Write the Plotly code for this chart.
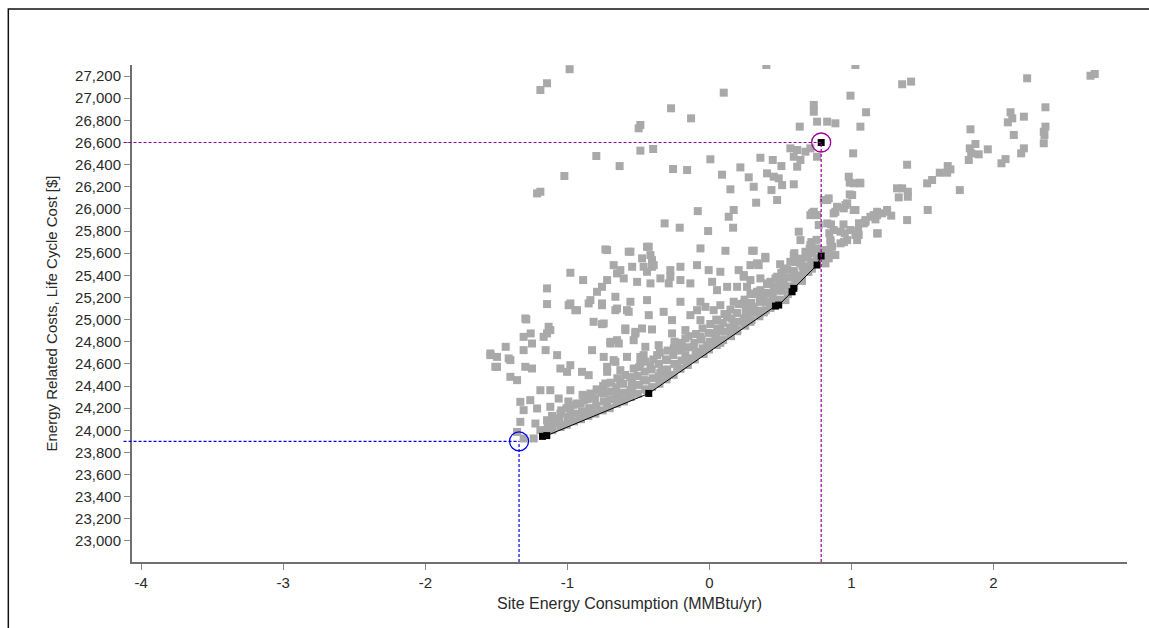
import plotly.graph_objects as go

# ---- All simulated design options: site energy (MMBtu/yr) vs. life cycle cost ($) ----
upper_energy = [-0.984, -1.143, -1.19, 0.101, -0.27, -0.129, -0.486, -0.498, 0.735, 0.735,
                0.758, 0.829, 0.636, 0.887, 0.993, 1.103, 1.063, 0.401, 1.028, -0.486,
                -0.396, -0.796, -0.632, -1.021, -1.19, -1.213, 0.007, -0.256, -0.157, 0.089,
                0.218, 0.359, 0.446, 0.507, 0.406, 0.453, 0.488, 0.277, 0.512, 0.594,
                0.312, 0.148, 0.437, 0.329, 0.477, 0.570, 0.618, 0.594, 0.641, 0.676,
                0.711, 0.618, 0.758, 1.012, 0.981, 0.988, 1.058, 0.988]
upper_cost = [27262, 27135, 27074, 27050, 26909, 26818, 26758, 26728, 26939, 26878,
              26788, 26788, 26743, 26773, 27023, 26873, 26743, 27300, 27300, 26526,
              26541, 26478, 26387, 26297, 26155, 26140, 26448, 26360, 26351, 26309,
              26375, 26462, 26442, 26387, 26321, 26291, 26276, 26285, 26215, 26222,
              26200, 26177, 26170, 26056, 26080, 26547, 26532, 26471, 26442, 26517,
              26547, 26381, 26471, 26502, 26291, 26237, 26237, 26131]

right_energy = [1.357, 1.420, 2.237, 2.683, 2.713, 1.392, 2.120, 2.132, 2.101, 2.214,
                2.366, 1.838, 2.143, 2.366, 2.354, 2.359, 2.354, 2.214, 2.195, 2.085,
                2.056, 1.873, 1.833, 1.843, 1.826, 1.896, 1.960, 1.678, 1.697, 1.674,
                1.622, 1.568, 1.533, 1.763, 1.357, 1.397, 1.397, 1.333, 1.537, 1.392,
                1.251, 1.216, 1.280, 1.157, 1.169, 1.099, 1.087, 1.028, 1.016, 1.063,
                1.005, 1.185, 1.028, 1.040, 1.321]
right_cost = [27126, 27150, 27180, 27203, 27219, 26399, 26873, 26818, 26782, 26833,
              26918, 26719, 26668, 26743, 26697, 26668, 26593, 26547, 26502, 26450,
              26412, 26586, 26547, 26502, 26442, 26493, 26538, 26387, 26357, 26327,
              26327, 26261, 26231, 26170, 26186, 26155, 26110, 26104, 25990, 25899,
              25990, 25960, 25939, 25944, 25905, 25899, 25869, 25990, 26231, 26231,
              26125, 25779, 25764, 25718, 26186]

mid_energy = [0.829, 0.899, 0.958, 1.016, 0.875, 0.711, 0.735, -0.082, 0.136, 0.171,
              -0.315, -0.209, -0.009, 0.167, 1.181, 0.629, 0.805, 0.84, 0.970, 0.946,
              0.723, 0.758, 0.887, 0.770, 0.829, 0.875, 0.923, 0.993, 1.051, 0.970,
              0.923, 0.852, 1.134, 1.181, 1.251, 1.099, 1.181, 0.641, 0.711, 0.746,
              0.817, 0.864, 0.887, 0.840, 0.817, 0.676, 0.594, 0.570, 0.641, 0.523,
              0.594, 0.664, 0.688]
mid_cost = [26080, 26019, 26035, 25990, 25960, 25944, 25974, 25980, 25929, 25990,
            25869, 25830, 25800, 25830, 25944, 25794, 26080, 26095, 26050, 26005,
            25960, 25944, 25974, 25854, 25869, 25809, 25794, 25809, 25764, 25718,
            25689, 25718, 25929, 25974, 25974, 25884, 25779, 25718, 25673, 25643,
            25628, 25658, 25583, 25553, 25508, 25613, 25583, 25522, 25508, 25462,
            25417, 25432, 25477]

band_energy = [0.312, 0.394, 0.289, 0.347, 0.477, 0.430, 0.359, 0.289, 0.242, 0.5,
               0.523, 0.441, 0.359, 0.289, 0.383, 0.312, 0.242, 0.265, 0.535, -0.427,
               -0.556, -0.415, -0.474, -0.720, -0.063, 0.113, 0.301, 0.394, 0.336, -0.674,
               -0.627, -0.544, -0.404, -0.275, -0.204, -0.087, -0.005, 0.077, 0.206, 0.242,
               -0.720, -0.603, -0.509, -0.415, -0.345, -0.275, -0.286, -0.204, -0.134, 0.019,
               0.054, 0.125, 0.195, 0.265, 0.336, 0.406, 0.465, 0.453, -0.662, -0.439,
               -0.204, -0.063, -0.028, 0.077, 0.171, 0.242, 0.359, -0.756, -0.662, -0.568,
               -0.427, -0.322, -0.263, -0.134, -0.087, 0.030, -0.063, 0.054, 0.125, 0.171,
               0.242, 0.289]
band_cost = [25622, 25553, 25492, 25492, 25387, 25341, 25372, 25357, 25387, 25296,
             25357, 25236, 25266, 25236, 25176, 25115, 25146, 25056, 25176, 25658,
             25613, 25583, 25553, 25628, 25643, 25622, 25622, 25567, 25508, 25492,
             25447, 25477, 25477, 25447, 25477, 25492, 25447, 25432, 25447, 25402,
             25357, 25372, 25341, 25327, 25372, 25387, 25327, 25357, 25327, 25341,
             25266, 25296, 25296, 25296, 25251, 25327, 25372, 25266, 25206, 25176,
             25161, 25161, 25115, 25130, 25161, 25146, 25191, 25146, 25085, 25070,
             25040, 25070, 24995, 25040, 25085, 25085, 24995, 24995, 25025, 24965,
             25010, 25070]

lower_energy = [-0.744, -0.592, -0.521, -0.474, -0.404, -0.263, -0.169, -0.169, -0.063, 0.030,
                0.077, 0.148, -0.697, -0.638, -0.533, -0.451, -0.357, -0.251, -0.204, -0.111,
                -0.016, 0.054, -0.744, -0.674, -0.580, -0.486, -0.368, -0.298, -0.169, -0.087,
                -0.720, -0.627, -0.533, -0.415, -0.333, -0.227, -0.732, -0.627, -0.544, -0.463,
                -0.357, -0.744, -0.650, -0.556, -0.720, -0.603, -0.439, -0.298, -0.157, -0.040,
                0.077, 0.195, 0.289, 0.383, 0.430]
lower_cost = [24965, 24920, 24889, 24920, 24911, 24875, 24905, 24830, 24844, 24875,
              24905, 24905, 24799, 24784, 24814, 24754, 24769, 24739, 24754, 24754,
              24769, 24799, 24663, 24634, 24663, 24663, 24679, 24634, 24679, 24694,
              24528, 24543, 24558, 24573, 24543, 24573, 24423, 24437, 24453, 24453,
              24483, 24332, 24332, 24362, 24242, 24272, 24362, 24483, 24590, 24690,
              24790, 24895, 24980, 25065, 25105]

left_energy = [-1.143, -0.979, -0.932, -0.850, -0.756, -0.650, -0.580, -0.815, -0.756, -1.296,
               -1.132, -1.143, -1.308, -1.249, -1.167, -1.258, -1.434, -1.308, -1.153, -1.072,
               -0.826, -0.697, -0.650, -0.592, -0.521, -1.542, -1.495, -1.413, -1.507, -1.401,
               -1.354, -1.296, -1.249, -1.049, -1.002, -0.979, -0.897, -0.850, -0.662, -0.720,
               -1.190, -1.120, -1.061, -0.979, -0.861, -0.791, -1.331, -1.261, -1.308, -1.213,
               -1.120, -1.049, -0.979, -0.932, -0.885, -0.838, -1.331, -1.225, -1.143, -1.061,
               -0.979, -0.908, -1.354, -1.190, -1.108, -1.308, -1.237, -0.486, -0.463, -0.732,
               -0.568, -0.439, -0.979, -0.889, -1.143, -0.991, -0.944, -0.838, -0.791, -0.756,
               -0.650, -0.556, -0.463, -0.439, -0.404, -0.392, -1.289, -1.120, -1.542, -1.495,
               -1.401]
left_cost = [25140, 25146, 25085, 25146, 25130, 25100, 25085, 24980, 24959, 25010,
             24935, 24875, 24844, 24784, 24844, 24875, 24754, 24724, 24724, 24679,
             24724, 24784, 24814, 24905, 24875, 24694, 24663, 24649, 24573, 24483,
             24453, 24573, 24558, 24558, 24528, 24588, 24528, 24498, 24618, 24573,
             24362, 24362, 24287, 24362, 24302, 24362, 24257, 24272, 24182, 24197,
             24212, 24152, 24182, 24242, 24272, 24332, 24076, 24061, 24091, 24106,
             24106, 24121, 23985, 24001, 24001, 23926, 23926, 24603, 24679, 25634,
             25613, 25658, 25423, 25357, 25282, 25130, 25085, 25176, 25251, 25296,
             25417, 25161, 25477, 25432, 25537, 25492, 25001, 24905, 24679, 24573,
             24634]

front_energy = [-1.152, -1.138, -1.047, -1.056, -1.043, -0.953, -0.946, -0.957, -0.852, -0.846,
                -0.858, -0.751, -0.744, -0.757, -0.748, -0.652, -0.646, -0.655, -0.648, -0.553,
                -0.546, -0.557, -0.452, -0.447, -0.455, -0.449, -0.352, -0.346, -0.355, -0.349,
                -0.252, -0.247, -0.254, -0.246, -0.152, -0.146, -0.155, -0.148, -0.052, -0.046,
                -0.055, -0.048, 0.052, 0.047, 0.055, 0.048, 0.152, 0.146, 0.155, 0.148,
                0.252, 0.246, 0.255, 0.248, 0.352, 0.346, 0.355, 0.348, 0.452, 0.446,
                0.455, 0.552, 0.546, 0.555, 0.548, 0.652, 0.646, 0.655, 0.648, 0.722,
                0.716, 0.725, 0.718]
front_cost = [24000, 24060, 24030, 24100, 24180, 24080, 24150, 24230, 24130, 24200,
              24280, 24180, 24260, 24340, 24400, 24240, 24310, 24390, 24470, 24300,
              24400, 24480, 24370, 24450, 24530, 24620, 24420, 24520, 24600, 24700,
              24500, 24600, 24680, 24800, 24590, 24650, 24750, 24850, 24690, 24740,
              24820, 24920, 24770, 24850, 24920, 25000, 24850, 24930, 25010, 25090,
              24945, 25010, 25080, 25180, 25030, 25080, 25160, 25250, 25150, 25220,
              25300, 25230, 25300, 25380, 25450, 25350, 25400, 25480, 25550, 25460,
              25520, 25600, 25700]

dense_energy = [-1.103, -1.096, -1.108, -1.004, -0.997, -1.006, -0.993, -0.904, -0.897, -0.906,
                -0.893, -0.803, -0.797, -0.806, -0.794, -0.702, -0.696, -0.705, -0.694, -0.603,
                -0.597, -0.606, -0.593, -0.503, -0.497, -0.506, -0.494, -0.403, -0.397, -0.406,
                -0.394, -0.303, -0.297, -0.306, -0.294, -0.203, -0.197, -0.206, -0.194, -0.103,
                -0.097, -0.106, -0.094, -0.003, 0.004, -0.006, 0.006, 0.097, 0.104, 0.094,
                0.106, 0.197, 0.204, 0.194, 0.206, 0.297, 0.304, 0.294, 0.306, 0.397,
                0.404, 0.394, 0.406, 0.497, 0.504, 0.494, 0.506, 0.498, 0.597, 0.604,
                0.594, 0.606, 0.598, 0.697, 0.704, 0.694, 0.706, 0.757, 0.763, 0.754,
                0.847, 0.853, 0.844, 0.856, 0.947, 0.953, 0.944, 1.047, 1.053]
dense_cost = [24010, 24070, 24130, 24050, 24120, 24200, 24260, 24100, 24170, 24240,
              24320, 24150, 24220, 24290, 24370, 24200, 24280, 24350, 24430, 24260,
              24340, 24420, 24500, 24330, 24410, 24490, 24570, 24390, 24470, 24550,
              24640, 24460, 24550, 24640, 24720, 24555, 24630, 24720, 24790, 24640,
              24710, 24790, 24870, 24730, 24800, 24880, 24960, 24815, 24890, 24970,
              25050, 24905, 24980, 25060, 25140, 24995, 25070, 25150, 25230, 25085,
              25160, 25240, 25320, 25180, 25260, 25340, 25420, 25500, 25300, 25360,
              25440, 25520, 25600, 25430, 25480, 25560, 25640, 25560, 25640, 25720,
              25620, 25700, 25780, 25860, 25700, 25780, 25860, 25800, 25870]

# ---- Optimal (least-cost) path ----
pareto_energy = [-1.175, -1.145, -0.427, 0.465, 0.488, 0.582, 0.594, 0.758, 0.787]
pareto_cost = [23945, 23952, 24333, 25122, 25131, 25251, 25282, 25493, 25574]

# ---- Reference building and selected option ----
reference_energy, reference_cost = -1.34, 23900
selected_energy, selected_cost = 0.787, 26600

# ---- Axis ticks ----
x_ticks = [-4, -3, -2, -1, 0, 1, 2]
x_tick_labels = ["-4", "-3", "-2", "-1", "0", "1", "2"]
y_ticks = list(range(23000, 27201, 200))
y_tick_labels = [f"{v:,}" for v in y_ticks]

all_energy = (upper_energy + right_energy + mid_energy + band_energy
              + lower_energy + left_energy + front_energy + dense_energy)
all_cost = (upper_cost + right_cost + mid_cost + band_cost
            + lower_cost + left_cost + front_cost + dense_cost)

X_MIN, X_MAX = -4.065, 2.94
Y_MIN, Y_MAX = 22810, 27300
FONT = "Liberation Sans, Arial, sans-serif"
BLUE = "#0000f0"
PURPLE = "#990099"
DASH = "3px,2px"

fig = go.Figure()

fig.add_trace(go.Scatter(
    x=all_energy, y=all_cost, mode="markers",
    marker=dict(symbol="square", size=8, color="#a9a9a9", line=dict(width=0)),
    hoverinfo="x+y",
))

fig.add_trace(go.Scatter(
    x=pareto_energy, y=pareto_cost, mode="lines+markers",
    line=dict(color="black", width=1),
    marker=dict(symbol="square", size=7, color="black"),
))

fig.add_trace(go.Scatter(
    x=[selected_energy], y=[selected_cost], mode="markers",
    marker=dict(symbol="square", size=7, color="black"),
))

# reference building guide lines
fig.add_shape(type="line", xref="paper", yref="y", x0=-0.0085, x1=(reference_energy - X_MIN) / (X_MAX - X_MIN),
              y0=reference_cost, y1=reference_cost, line=dict(color=BLUE, width=1.2, dash=DASH))
fig.add_shape(type="line", xref="x", yref="y", x0=reference_energy, x1=reference_energy,
              y0=Y_MIN, y1=reference_cost, line=dict(color=BLUE, width=1.2, dash=DASH))

# selected option guide lines
fig.add_shape(type="line", xref="paper", yref="y", x0=-0.0085, x1=(selected_energy - X_MIN) / (X_MAX - X_MIN),
              y0=selected_cost, y1=selected_cost, line=dict(color=PURPLE, width=1.2, dash=DASH))
fig.add_shape(type="line", xref="x", yref="y", x0=selected_energy, x1=selected_energy,
              y0=Y_MIN, y1=selected_cost, line=dict(color=PURPLE, width=1.2, dash=DASH))

fig.add_trace(go.Scatter(
    x=[reference_energy], y=[reference_cost], mode="markers",
    marker=dict(symbol="circle-open", size=19, color=BLUE, line=dict(width=1.3)),
))
fig.add_trace(go.Scatter(
    x=[selected_energy], y=[selected_cost], mode="markers",
    marker=dict(symbol="circle-open", size=19, color=PURPLE, line=dict(width=1.3)),
))

# window frame
fig.add_shape(type="rect", xref="paper", yref="paper", x0=-0.1243, x1=1.2, y0=-0.3, y1=1.1127,
              line=dict(color="#111111", width=1.5), layer="below")

axis_common = dict(
    showgrid=False, zeroline=False, showline=True, linecolor="#707070", linewidth=2,
    ticks="outside", ticklen=6, tickcolor="#8a8a8a", tickwidth=1,
    tickfont=dict(family=FONT, size=15, color="#2a2a2a"),
)

fig.update_layout(
    width=1149, height=628,
    margin=dict(l=132, r=22, t=65, b=66),
    paper_bgcolor="white", plot_bgcolor="white",
    showlegend=False,
    xaxis=dict(range=[X_MIN, X_MAX], tickmode="array", tickvals=x_ticks, ticktext=x_tick_labels,
               title=dict(text="Site Energy Consumption (MMBtu/yr)", standoff=8,
                          font=dict(family=FONT, size=16, color="#2a2a2a")),
               **axis_common),
    yaxis=dict(range=[Y_MIN, Y_MAX], tickmode="array", tickvals=y_ticks, ticktext=y_tick_labels,
               title=dict(text="Energy Related Costs, Life Cycle Cost [$]", standoff=14,
                          font=dict(family=FONT, size=15, color="#2a2a2a")),
               **axis_common),
)

fig.write_html("out.html")
